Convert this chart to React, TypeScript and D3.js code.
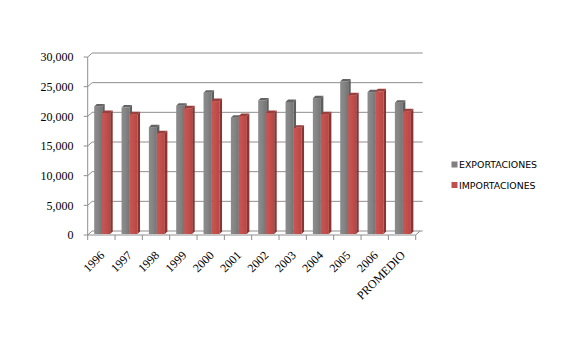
import React from "react";
import * as d3 from "d3";

const categories = ["1996","1997","1998","1999","2000","2001","2002","2003","2004","2005","2006","PROMEDIO"];
const exportaciones = [21500,21300,18000,21600,23800,19600,22500,22250,22900,25700,23900,22100];
const importaciones = [20400,20200,17000,21200,22400,19900,20400,17900,20200,23400,24050,20700];
const yTicks = [0,5000,10000,15000,20000,25000,30000];
const seriesNames = ["EXPORTACIONES","IMPORTACIONES"];

const W = 580, H = 343;
const X0 = 87.7, X1 = 415.7;
const YB = 235, YT = 57;
const DX = 4.5, DY = -4; // wall depth
const BD = 2.5; // bar depth
const BO = 1; // bar offset from front

export default function App() {
  const x = d3.scaleBand<string>().domain(categories).range([X0, X1]).paddingInner(0).paddingOuter(0);
  const y = d3.scaleLinear().domain([0, 30000]).range([YB, YT]);
  const grid = "#8e8e8e";
  const step = x.step();
  const barW = 8;
  const fmt = d3.format(",");

  const bar = (cx: number, v: number, front: string, side: string, top: string, key: string) => {
    const xl = cx + BO, xr = xl + barW;
    const yt = y(v) - BO, yb = y(0) - BO;
    return (
      <g key={key}>
        <rect x={xl} y={yt} width={barW} height={yb - yt} fill={front} />
        <polygon points={`${xr},${yt} ${xr + BD},${yt - BD} ${xr + BD},${yb - BD} ${xr},${yb}`} fill={side} />
        <polygon points={`${xl},${yt} ${xl + BD},${yt - BD} ${xr + BD},${yt - BD} ${xr},${yt}`} fill={top} />
      </g>
    );
  };

  return (
    <svg width={W} height={H} style={{ position: "absolute", left: 0, top: 0, background: "#fff" }}>
      <defs>
        <linearGradient id="gGray" x1="0" x2="1" y1="0" y2="0">
          <stop offset="0" stopColor="#8c8c8c" />
          <stop offset="0.5" stopColor="#848484" />
          <stop offset="1" stopColor="#747474" />
        </linearGradient>
        <linearGradient id="gRed" x1="0" x2="1" y1="0" y2="0">
          <stop offset="0" stopColor="#cc5552" />
          <stop offset="0.5" stopColor="#c24f4c" />
          <stop offset="1" stopColor="#b34744" />
        </linearGradient>
      </defs>
      {/* walls gridlines */}
      {yTicks.map((t) => (
        <g key={t}>
          <line x1={X0} y1={y(t)} x2={X0 + DX} y2={y(t) + DY} stroke={grid} strokeWidth={1} />
          {t > 0 && <line x1={X0 + DX} y1={y(t) + DY} x2={X1 + 7} y2={y(t) + DY} stroke={grid} strokeWidth={1} />}
          <line x1={X0 - 4} y1={y(t)} x2={X0} y2={y(t)} stroke={grid} strokeWidth={1} />
          <text x={73.5} y={y(t)} dy="0.35em" textAnchor="end" fontFamily="Liberation Serif, serif" fontSize={12} fill="#000">
            {fmt(t)}
          </text>
        </g>
      ))}
      {/* floor */}
      <line x1={X0 + DX} y1={y(0) + DY} x2={X1 + 7} y2={y(0) + DY} stroke={grid} />
      <line x1={X0} y1={y(0)} x2={X1} y2={y(0)} stroke={grid} />
      <line x1={X1} y1={y(0)} x2={X1 + DX} y2={y(0) + DY} stroke={grid} />
      <line x1={X0} y1={YT} x2={X0} y2={YB} stroke={grid} />
      {/* category ticks */}
      {categories.concat(["_end"]).map((c, i) => (
        <line key={c} x1={X0 + i * step} y1={YB} x2={X0 + i * step} y2={YB + 5} stroke={grid} />
      ))}
      {/* bars */}
      {categories.map((c, i) => {
        const bx = x(c)!;
        return (
          <g key={c}>
            {bar(bx + 5.5, exportaciones[i], "url(#gGray)", "#5e5e5e", "#646464", "e")}
            {bar(bx + 5.5 + barW, importaciones[i], "url(#gRed)", "#8a3533", "#9c3e3b", "i")}
          </g>
        );
      })}
      {/* x labels */}
      {categories.map((c) => {
        const cx = x(c)! + step / 2 - 2;
        return (
          <text key={c} transform={`translate(${cx},${YB + 15}) rotate(-45)`} textAnchor="end" dy="0.7em"
            fontFamily="Liberation Serif, serif" fontSize={12} fill="#000">
            {c}
          </text>
        );
      })}
      {/* legend */}
      {seriesNames.map((s, i) => (
        <g key={s} transform={`translate(451.5,${161.5 + i * 20.5})`}>
          <rect x={0} y={0} width={6} height={6} fill={i === 0 ? "#808080" : "#c0504d"} />
          <text x={7.5} y={6.8} fontFamily="DejaVu Sans, sans-serif" fontSize={9.4} fill="#000">{s}</text>
        </g>
      ))}
    </svg>
  );
}
